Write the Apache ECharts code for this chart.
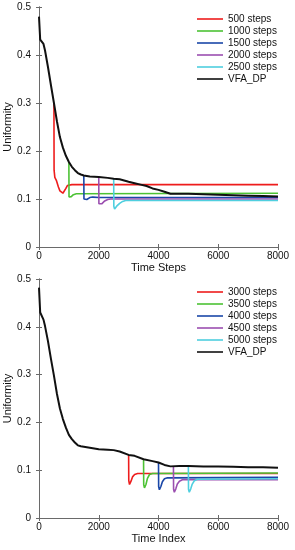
<!DOCTYPE html>
<html>
<head>
<meta charset="utf-8">
<script src="https://cdn.jsdelivr.net/npm/echarts@6/dist/echarts.min.js"></script>
<style>html,body{margin:0;padding:0;background:#fff}#c{width:295px;height:550px}</style>
</head>
<body>
<div id="c"></div>
<script>
// ---- Data ----
const xTicks = [0, 2000, 4000, 6000, 8000];
const yTicks = [0, 0.1, 0.2, 0.3, 0.4, 0.5];
const topNames = ['500 steps', '1000 steps', '1500 steps', '2000 steps', '2500 steps', 'VFA_DP'];
const bottomNames = ['3000 steps', '3500 steps', '4000 steps', '4500 steps', '5000 steps', 'VFA_DP'];

const vfaTop = [[0,0.48],[40,0.432],[100,0.428],[150,0.423],[200,0.41],[300,0.375],[400,0.337],[500,0.30],[600,0.262],[700,0.229],[800,0.207],[900,0.19],[1000,0.177],[1100,0.167],[1200,0.16],[1300,0.154],[1400,0.151],[1500,0.149],[1700,0.147],[2000,0.146],[2300,0.144],[2500,0.142],[2700,0.141],[3000,0.136],[3200,0.133],[3400,0.13],[3600,0.127],[3800,0.122],[4000,0.119],[4200,0.115],[4400,0.111],[4700,0.111],[5000,0.111],[5500,0.110],[6000,0.109],[6500,0.108],[7000,0.107],[7500,0.106],[8000,0.105]];
const s500 = [[500,0.30],[505,0.16],[530,0.145],[580,0.139],[650,0.125],[700,0.117],[750,0.113],[800,0.112],[850,0.115],[900,0.122],[950,0.128],[1000,0.13],[1100,0.13],[8000,0.13]];
const s1000 = [[1000,0.177],[1005,0.104],[1030,0.101],[1080,0.105],[1150,0.109],[1250,0.111],[8000,0.112]];
const s1500 = [[1500,0.149],[1505,0.1],[1540,0.097],[1600,0.099],[1700,0.103],[1800,0.104],[2000,0.103],[8000,0.103]];
const s2000 = [[2000,0.146],[2005,0.09],[2030,0.086],[2100,0.09],[2200,0.096],[2300,0.099],[2400,0.1],[8000,0.1]];
const s2500 = [[2500,0.142],[2505,0.085],[2530,0.079],[2600,0.085],[2700,0.091],[2800,0.095],[2900,0.097],[8000,0.097]];

const vfaBottom = [[0,0.482],[40,0.43],[100,0.426],[150,0.415],[200,0.402],[300,0.37],[400,0.333],[500,0.298],[600,0.26],[700,0.229],[800,0.207],[900,0.189],[1000,0.174],[1100,0.165],[1200,0.158],[1300,0.152],[1400,0.15],[1500,0.149],[1700,0.147],[2000,0.144],[2300,0.143],[2500,0.142],[2700,0.139],[3000,0.132],[3200,0.13],[3500,0.123],[3800,0.119],[4000,0.116],[4200,0.111],[4400,0.108],[4700,0.109],[5000,0.109],[5500,0.108],[6000,0.108],[6500,0.107],[7000,0.106],[7500,0.106],[8000,0.105]];
const s3000 = [[3000,0.132],[3005,0.078],[3030,0.07],[3080,0.077],[3130,0.086],[3200,0.091],[3300,0.093],[8000,0.093]];
const s3500 = [[3500,0.123],[3505,0.07],[3530,0.063],[3580,0.07],[3630,0.083],[3700,0.091],[3800,0.093],[8000,0.094]];
const s4000 = [[4000,0.116],[4005,0.066],[4030,0.059],[4080,0.066],[4130,0.076],[4200,0.082],[4300,0.084],[8000,0.085]];
const s4500 = [[4500,0.109],[4505,0.06],[4530,0.054],[4580,0.061],[4630,0.071],[4700,0.077],[4800,0.08],[8000,0.08]];
const s5000 = [[5000,0.109],[5005,0.06],[5030,0.054],[5080,0.061],[5130,0.071],[5200,0.078],[5300,0.081],[8000,0.082]];

// ---- Styling ----
const colors = ['#ee1c1c', '#4cc234', '#1a47a8', '#9b4fb0', '#4fcfdf', '#111111'];
const FONT = 'Liberation Sans';
const axisColor = '#6a6a6a';

const chart = echarts.init(document.getElementById('c'), null, {renderer: 'canvas'});

function xAx(gi, name, pos) {
  const main = pos === 'bottom';
  return {
    type: 'value', gridIndex: gi, position: pos, min: xTicks[0], max: xTicks[xTicks.length-1],
    interval: xTicks[1] - xTicks[0],
    name: main ? name : '', nameLocation: 'middle', nameGap: 15,
    nameTextStyle: {fontFamily: FONT, fontSize: 11, color: '#111'},
    axisLine: {show: true, lineStyle: {color: axisColor, width: 1}},
    axisTick: {show: true, inside: true, length: 3, lineStyle: {color: axisColor}},
    axisLabel: {show: main, margin: 4, fontFamily: FONT, fontSize: 10, color: '#111',
      formatter: v => String(v)},
    splitLine: {show: false}
  };
}
function yAx(gi, pos) {
  const main = pos === 'left';
  return {
    type: 'value', gridIndex: gi, position: pos, min: yTicks[0], max: yTicks[yTicks.length-1],
    interval: 0.1,
    name: main ? 'Uniformity' : '', nameLocation: 'middle', nameGap: 26, nameMoveOverlap: false,
    nameTextStyle: {fontFamily: FONT, fontSize: 11, color: '#111'},
    axisLine: {show: true, lineStyle: {color: axisColor, width: 1}},
    axisTick: {show: true, inside: true, length: 3, lineStyle: {color: axisColor}},
    axisLabel: {show: main, margin: 8, fontFamily: FONT, fontSize: 10, color: '#111',
      formatter: v => v === 0 ? '0' : v.toFixed(1)},
    splitLine: {show: false}
  };
}
function ser(name, data, ci, gi) {
  return {
    type: 'line', name: name, data: data, xAxisIndex: gi * 2, yAxisIndex: gi * 2,
    symbol: 'none', showSymbol: false, animation: false,
    lineStyle: {color: colors[ci], width: ci === 5 ? 2 : 1.6},
    itemStyle: {color: colors[ci]}
  };
}

const topData = [s500, s1000, s1500, s2000, s2500, vfaTop];
const bottomData = [s3000, s3500, s4000, s4500, s5000, vfaBottom];
const series = [];
topData.forEach((d, i) => series.push(ser(topNames[i], d, i, 0)));
bottomData.forEach((d, i) => series.push(ser(bottomNames[i], d, i, 1)));

function leg(names, top) {
  return {
    data: names, orient: 'vertical', left: 197, top: top, itemWidth: 26, itemHeight: 10, itemGap: 2,
    padding: 0, selectedMode: false,
    textStyle: {fontFamily: FONT, fontSize: 10, color: '#111'},
    icon: 'path://M0,4.2 L26,4.2 L26,5.8 L0,5.8 Z'
  };
}

chart.setOption({
  animation: false,
  backgroundColor: '#fff',
  grid: [
    {left: 39, right: 17, top: 7, height: 240, outerBoundsMode: 'none', containLabel: false},
    {left: 39, right: 17, top: 279, height: 239, outerBoundsMode: 'none', containLabel: false}
  ],
  xAxis: [xAx(0, 'Time Steps', 'bottom'), xAx(0, '', 'top'), xAx(1, 'Time Index', 'bottom'), xAx(1, '', 'top')],
  yAxis: [yAx(0, 'left'), yAx(0, 'right'), yAx(1, 'left'), yAx(1, 'right')],
  legend: [leg(topNames, 14), leg(bottomNames, 287)],
  series: series
});
</script>
</body>
</html>
